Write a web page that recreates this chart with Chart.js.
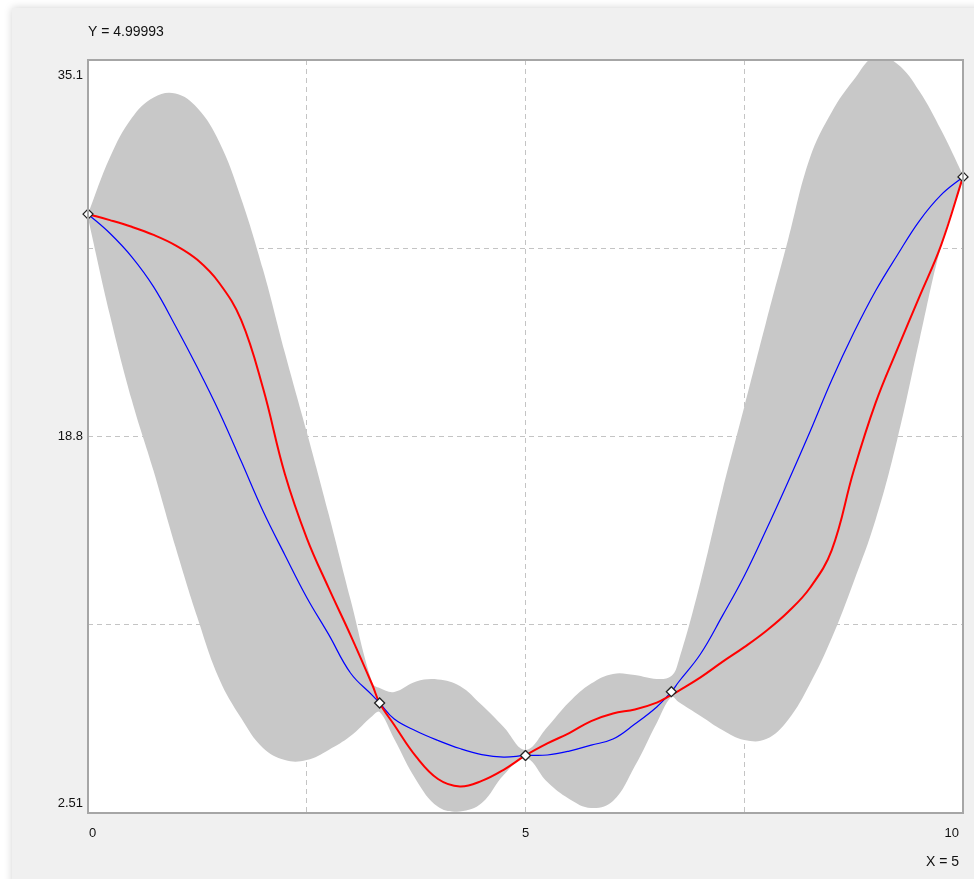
<!DOCTYPE html>
<html>
<head>
<meta charset="utf-8">
<script src="https://cdn.jsdelivr.net/npm/chart.js@4.4.1/dist/chart.umd.min.js"></script>
<style>
    html, body { margin: 0; padding: 0; background: #ffffff; }
    #graphique { display: block; }
</style>
</head>
<body>
<canvas id="graphique" width="974" height="879"></canvas>
<script>
// x positions shared by every curve
let xs = [0, 0.25, 0.5, 0.75, 1, 1.25, 1.5, 1.75, 2, 2.25, 2.5, 2.75, 3, 3.25, 3.333, 3.5, 3.75, 4, 4.25, 4.5, 4.75,
          5, 5.25, 5.5, 5.75, 6, 6.25, 6.5, 6.667, 6.75, 7, 7.25, 7.5, 7.75, 8, 8.25, 8.5, 8.75, 9, 9.25, 9.5, 9.75, 10];

// grey confidence band
let bandHaut = [28.43, 30.88, 32.59, 33.48, 33.65, 33.02, 31.55, 29.11, 26.03, 22.43, 19.00, 15.45, 11.75, 8.14, 7.92, 7.75, 8.20, 8.29, 8.01, 7.18, 6.23,
                5.24, 6.23, 7.31, 8.11, 8.53, 8.48, 8.31, 8.44, 9.09, 12.51, 16.45, 20.08, 23.76, 27.31, 30.86, 32.85, 34.23, 35.27, 34.93, 33.76, 32.07, 30.12];
let bandBas = [28.26, 24.06, 20.38, 17.31, 14.02, 10.97, 8.31, 6.62, 5.32, 4.80, 4.80, 5.24, 5.84, 6.71, 6.88, 5.71, 3.94, 2.78, 2.58, 2.94, 4.15,
               4.89, 3.85, 3.12, 2.73, 3.03, 4.54, 6.41, 7.53, 7.31, 6.71, 6.10, 5.67, 5.71, 6.54, 8.09, 10.08, 12.51, 15.19, 18.70, 22.94, 27.05, 29.95];

// blue and red curves
let bleu = [28.43, 27.60, 26.58, 25.28, 23.59, 21.79, 19.87, 17.74, 15.58, 13.68, 11.84, 10.24, 8.57, 7.60, 7.27, 6.58, 6.06, 5.65, 5.30, 5.04, 4.93,
            5.00, 5.02, 5.19, 5.45, 5.71, 6.36, 7.10, 7.76, 8.18, 9.39, 11.04, 12.77, 14.76, 16.84, 19.00, 21.25, 23.28, 25.10, 26.66, 28.13, 29.26, 30.04];
let rouge = [28.43, 28.17, 27.88, 27.53, 27.08, 26.45, 25.45, 23.85, 20.90, 17.18, 14.41, 12.25, 10.21, 8.05, 7.27, 6.32, 4.95, 3.98, 3.66, 3.90, 4.38,
             5.00, 5.52, 5.97, 6.49, 6.82, 6.99, 7.29, 7.62, 7.80, 8.38, 9.05, 9.69, 10.39, 11.21, 12.25, 13.89, 17.31, 20.25, 22.59, 24.84, 27.09, 30.04];

// measured points
let pointsX = [0, 3.333, 5, 6.667, 10];
let pointsY = [28.43, 7.27, 5.0, 7.76, 30.04];

// axes
let yMin = 2.51;
let yMax = 35.1;
let yGrille = [2.51, 10.6575, 18.805, 26.9525, 35.1];
let yEtiquettes = ["2.51", "18.8", "35.1"];
let yEtiquettesVal = [2.51, 18.805, 35.1];
let xEtiquettes = ["0", "5", "10"];
let xEtiquettesVal = [0, 5, 10];
let titreY = "Y = 4.99993";
let titreX = "X = 5";

function paires(xx, yy) {
    let res = [];
    for (let i = 0; i < xx.length; i++) {
        res.push({ x: xx[i], y: yy[i] });
    }
    return res;
}

let police = "13px 'Liberation Sans', Arial, sans-serif";

let decor = {
    id: "decor",
    beforeDraw: function (chart) {
        let ctx = chart.ctx;
        let a = chart.chartArea;
        ctx.save();
        ctx.fillStyle = "#ffffff";
        ctx.fillRect(0, 0, chart.width, chart.height);
        ctx.shadowColor = "rgba(0,0,0,0.18)";
        ctx.shadowBlur = 8;
        ctx.fillStyle = "#f0f0f0";
        ctx.fillRect(12, 8, chart.width, chart.height);
        ctx.shadowBlur = 0;
        ctx.fillStyle = "#ffffff";
        ctx.fillRect(a.left, a.top, a.right - a.left, a.bottom - a.top);
        ctx.restore();
    },
    afterDraw: function (chart) {
        let ctx = chart.ctx;
        let a = chart.chartArea;
        let sx = chart.scales.x;
        let sy = chart.scales.y;
        ctx.save();
        ctx.strokeStyle = "#a6a6a6";
        ctx.lineWidth = 2;
        ctx.strokeRect(a.left, a.top, a.right - a.left, a.bottom - a.top);

        ctx.fillStyle = "#111111";
        ctx.font = police;
        ctx.textAlign = "right";
        ctx.textBaseline = "middle";
        for (let i = 0; i < yEtiquettes.length; i++) {
            let py = sy.getPixelForValue(yEtiquettesVal[i]);
            py = Math.min(Math.max(py, a.top + 15), a.bottom - 10);
            ctx.fillText(yEtiquettes[i], a.left - 5, py);
        }
        for (let i = 0; i < xEtiquettes.length; i++) {
            let px = sx.getPixelForValue(xEtiquettesVal[i]);
            if (i == 0) {
                ctx.textAlign = "left";
                px += 1;
            } else if (i == xEtiquettes.length - 1) {
                ctx.textAlign = "right";
                px -= 4;
            } else {
                ctx.textAlign = "center";
            }
            ctx.fillText(xEtiquettes[i], px, a.bottom + 20);
        }
        ctx.font = "14px 'Liberation Sans', Arial, sans-serif";
        ctx.textAlign = "left";
        ctx.fillText(titreY, a.left, 32);
        ctx.textAlign = "right";
        ctx.fillText(titreX, a.right - 4, 862);
        ctx.restore();
    }
};

let ctx = document.getElementById("graphique").getContext("2d");
let chart = new Chart(ctx, {
    type: "line",
    data: {
        datasets: [
            {
                label: "points",
                data: paires(pointsX, pointsY),
                showLine: false,
                pointStyle: "rectRot",
                pointRadius: 5,
                pointBackgroundColor: "#ffffff",
                pointBorderColor: "#222222",
                pointBorderWidth: 1.3,
                clip: false,
                order: 0
            },
            {
                label: "rouge",
                data: paires(xs, rouge),
                borderColor: "#ff0000",
                borderWidth: 2,
                pointRadius: 0,
                tension: 0.4,
                fill: false,
                order: 1
            },
            {
                label: "bleu",
                data: paires(xs, bleu),
                borderColor: "#0000ff",
                borderWidth: 1.2,
                pointRadius: 0,
                tension: 0.4,
                fill: false,
                order: 2
            },
            {
                label: "haut",
                data: paires(xs, bandHaut),
                borderWidth: 0,
                borderColor: "rgba(0,0,0,0)",
                backgroundColor: "#c8c8c8",
                pointRadius: 0,
                tension: 0.4,
                fill: "+1",
                order: 3
            },
            {
                label: "bas",
                data: paires(xs, bandBas),
                borderWidth: 0,
                borderColor: "rgba(0,0,0,0)",
                pointRadius: 0,
                tension: 0.4,
                fill: false,
                order: 4
            }
        ]
    },
    options: {
        responsive: false,
        animation: false,
        layout: {
            autoPadding: false,
            padding: { left: 88, top: 60, right: 11, bottom: 66 }
        },
        plugins: {
            legend: { display: false },
            tooltip: { enabled: false }
        },
        scales: {
            x: {
                type: "linear",
                min: 0,
                max: 10,
                ticks: { display: false, stepSize: 2.5 },
                border: { display: false, dash: [5, 4] },
                grid: { color: "#c4c4c4", drawTicks: false }
            },
            y: {
                type: "linear",
                min: yMin,
                max: yMax,
                afterBuildTicks: function (scale) {
                    scale.ticks = yGrille.map(function (v) { return { value: v }; });
                },
                ticks: { display: false },
                border: { display: false, dash: [5, 4] },
                grid: { color: "#c4c4c4", drawTicks: false }
            }
        }
    },
    plugins: [decor]
});
</script>
</body>
</html>
